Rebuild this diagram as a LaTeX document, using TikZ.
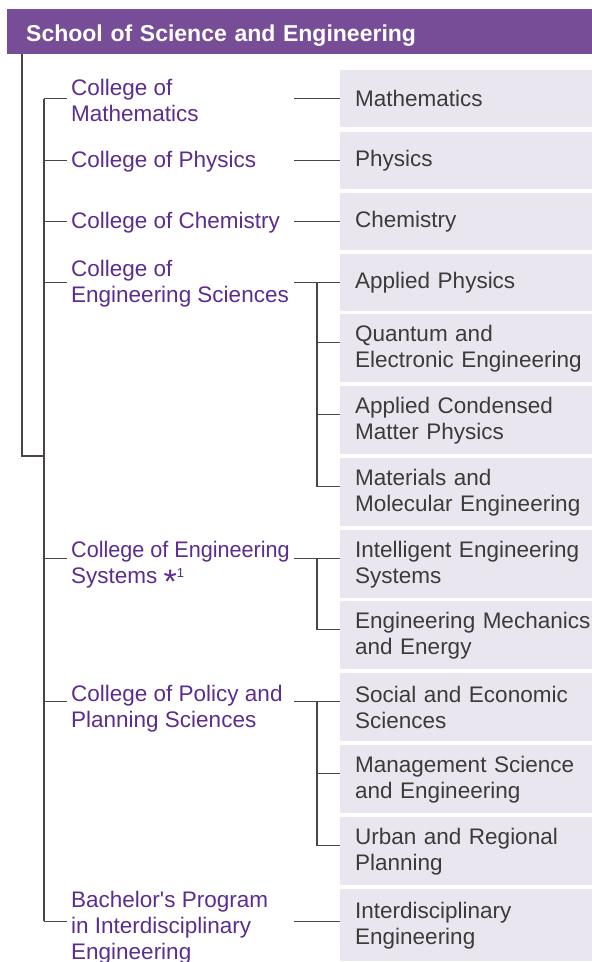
\documentclass[tikz,border=0pt]{standalone}
\usepackage{fontspec}
\setmainfont{Liberation Sans}
\definecolor{hdpurple}{HTML}{774D98}
\definecolor{colpurple}{HTML}{5C2D8E}
\definecolor{deptfill}{HTML}{E9E6EF}
\definecolor{depttext}{HTML}{3E3A39}
\definecolor{linegray}{HTML}{4A4444}
\tikzset{
  head/.style={anchor=north west, fill=hdpurple, text=white, font=\bfseries\fontsize{23}{26}\selectfont,
    minimum width=585pt, minimum height=45pt, text width=547pt, text height=19pt, text depth=0pt,
    inner xsep=19pt, inner ysep=0pt, align=left},
  college/.style={anchor=base west, inner sep=4pt, align=left, text=colpurple, font=\fontsize{22.5}{26}\selectfont},
  dept/.style={anchor=north west, fill=deptfill, text=depttext, inner xsep=15pt, inner ysep=0pt,
    text width=240pt, minimum height=68pt, align=left, font=\fontsize{22.5}{26}\selectfont},
  oneline/.style={minimum height=57pt},
  link/.style={draw=linegray, line width=1.3pt},
}
\begin{document}
\begin{tikzpicture}[x=1pt, y=-1pt]
\path[use as bounding box] (0,0) rectangle (592,962);
\clip (0,0) rectangle (592,962);
\node [head] (head) at (7,9) {School of Science and Engineering};
% departments
\node [dept, oneline] (dMath) at (340,70) {Mathematics};
\node [dept, oneline] (dPhys) at (340,132) {Physics};
\node [dept, oneline] (dChem) at (340,193) {Chemistry};
\node [dept, oneline] (dAp) at (340,254) {Applied Physics};
\node [dept] (dQe) at (340,314) {Quantum and\\Electronic Engineering};
\node [dept] (dAcmp) at (340,386) {Applied Condensed\\Matter Physics};
\node [dept] (dMme) at (340,458) {Materials and\\Molecular Engineering};
\node [dept] (dIes) at (340,530) {Intelligent Engineering\\Systems};
\node [dept] (dEme) at (340,601) {Engineering Mechanics\\and Energy};
\node [dept] (dSes) at (340,673) {Social and Economic\\Sciences};
\node [dept] (dMse) at (340,745) {Management Science\\and Engineering};
\node [dept] (dUrp) at (340,817) {Urban and Regional\\Planning};
\node [dept, minimum height=72pt] (dInter) at (340,889) {Interdisciplinary\\Engineering};
% colleges (placed at the baseline of their last line)
\node [college] (cMath) at (67,121) {College of\\Mathematics};
\node [college] (cPhys) at (67,167) {College of Physics};
\node [college] (cChem) at (67,228) {College of Chemistry};
\node [college] (cEsci) at (67,302) {College of\\Engineering Sciences};
\node [college] (cEsys) at (67,583) {\scalebox{0.96}[1]{College of Engineering}\\Systems \raisebox{-10pt}{\fontsize{34}{34}\selectfont *}\raisebox{6pt}{\fontsize{13}{13}\selectfont 1}};
\node [college] (cPol) at (67,727) {College of Policy and\\Planning Sciences};
\node [college] (cBach) at (67,959) {Bachelor\textquotesingle s Program\\in Interdisciplinary\\Engineering};
% tick points
\foreach \n in {Math,Phys,Chem,Ap}
  \coordinate (t\n) at (d\n.west);
\foreach \n in {Qe,Acmp,Mme,Ies,Eme,Ses,Mse,Urp}
  \coordinate (t\n) at ([yshift=6pt]d\n.west);
\coordinate (tInter) at ([yshift=4pt]dInter.west);
\coordinate (spine) at (44,0);
\coordinate (fork) at (294,0);
\coordinate (branch) at (317,0);
\coordinate (rootEnd) at (44,456);
% tree lines
\draw [link] ([xshift=15pt]head.south west) |- (rootEnd);
\draw [link] (spine |- tMath) -- (spine |- tInter);
\foreach \c/\t in {cMath/tMath,cPhys/tPhys,cChem/tChem,cEsci/tAp,cEsys/tIes,cPol/tSes,cBach/tInter}
  \draw [link] (spine |- \t) -- (\c.west |- \t);
\foreach \t in {tMath,tPhys,tChem,tAp,tIes,tSes,tInter}
  \draw [link] (fork |- \t) -- (\t);
\draw [link] (branch |- tAp) |- (tMme);
\draw [link] (branch |- tIes) |- (tEme);
\draw [link] (branch |- tSes) |- (tUrp);
\foreach \t in {tQe,tAcmp,tMse}
  \draw [link] (branch |- \t) -- (\t);
\end{tikzpicture}
\end{document}
